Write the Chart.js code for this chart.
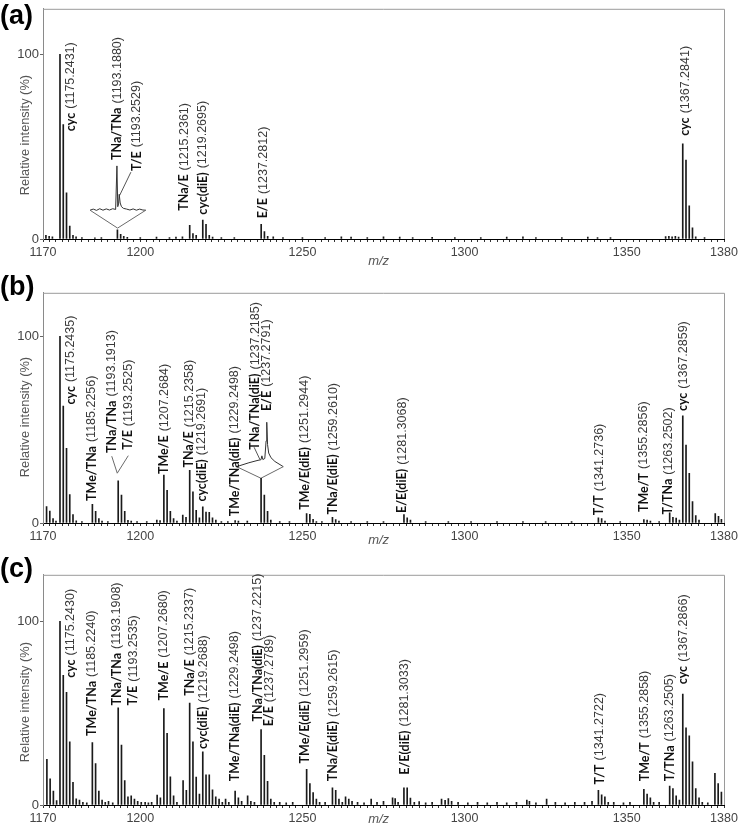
<!DOCTYPE html>
<html>
<head>
<meta charset="utf-8">
<script src="https://cdn.jsdelivr.net/npm/chart.js@4.4.1/dist/chart.umd.min.js"></script>
<style>
  body { margin: 0; background: #fff; width: 742px; height: 828px; position: relative; overflow: hidden; }
  .panel { position: absolute; left: 0; }
  .tag { position: absolute; left: 0; font: bold 27px "Liberation Sans", Arial, sans-serif; line-height: 27px; color: #000; z-index: 2; }
</style>
</head>
<body>
<div class="tag" style="top:2px">(a)</div>
<div class="tag" style="top:273px">(b)</div>
<div class="tag" style="top:555px">(c)</div>
<div class="panel" style="top:0"><canvas id="ca" width="742" height="270"></canvas></div>
<div class="panel" style="top:284px"><canvas id="cb" width="742" height="270"></canvas></div>
<div class="panel" style="top:566px"><canvas id="cc" width="742" height="262"></canvas></div>
<script>
var xTickLabels = [1170, 1200, 1250, 1300, 1350, 1380];
var yTickLabels = [0, 100];

// ---- (a) ----
var mzA = [1170.9, 1171.9, 1172.9, 1175.24, 1176.25, 1177.25, 1178.25, 1179.25, 1180.2, 1182,
           1186, 1188, 1192.95, 1193.95, 1194.9, 1196, 1200, 1205, 1209, 1211,
           1213, 1215.24, 1216.24, 1217.24, 1219.27, 1220.27, 1221.27, 1222.3, 1225, 1229,
           1237.28, 1238.28, 1239.28, 1241, 1244, 1250, 1257, 1262, 1265, 1270,
           1275, 1280, 1284, 1290, 1297, 1305, 1313, 1318, 1322, 1330,
           1338, 1341, 1345, 1362, 1363, 1364, 1365, 1366, 1367.28, 1368.28,
           1369.28, 1370.28, 1371.28, 1374];
var intA = [2, 1.5, 1.2, 100, 62, 25, 7, 2, 1.2, 0.8,
            0.6, 0.8, 5, 2.5, 1.5, 0.9, 0.8, 1, 0.8, 1.1,
            1.2, 7.4, 3, 2, 10.3, 8, 2, 1, 0.8, 0.8,
            8, 4, 1.5, 1.2, 0.8, 0.8, 0.8, 1.2, 1, 0.8,
            1.2, 1, 0.8, 0.9, 0.8, 0.8, 1, 1.2, 0.8, 0.8,
            1, 0.8, 0.8, 1.3, 1.5, 1.2, 1.5, 1, 51.6, 42.8,
            18, 6, 1.2, 0.8];
var namesA = ['cyc', 'TNa/TNa', 'T/E', 'TNa/E', 'cyc(diE)', 'E/E', 'cyc'];
var massesA = ['1175.2431', '1193.1880', '1193.2529', '1215.2361', '1219.2695', '1237.2812', '1367.2841'];
var anchorsA = [[1178.5, 58.4], [1192.9, 42.8], [1198.9, 36.8], [1213.5, 15.3], [1219.2, 13.2], [1237.9, 11.2], [1368.0, 55.9]];
// zoom inset around m/z 1193
var insetVA = [[1184.5, 15.6], [1193.0, 5.9], [1201.7, 15.6]];
var insetTraceA = [[1184.5, 15.6], [1185.5, 16.2], [1186.5, 15.5], [1187.5, 16.4], [1188.5, 15.6], [1189.5, 16.3],
                   [1190.5, 15.7], [1191.5, 16.4], [1192.4, 16], [1192.8, 39.6], [1193.05, 17.5], [1193.3, 19],
                   [1193.5, 24.2], [1193.8, 19.5], [1194.2, 17.5], [1194.8, 16.6], [1195.8, 16.2], [1196.8, 15.7],
                   [1197.8, 16.3], [1198.8, 15.6], [1199.8, 16.2], [1200.8, 15.7], [1201.7, 15.6]];
var pointerA = [[1193.6, 23.5], [1197.1, 36.2]];

// ---- (b) ----
var mzB = [1171.1, 1172.1, 1173.1, 1174, 1175.24, 1176.25, 1177.25, 1178.25, 1179.25, 1180.25,
           1182, 1185.23, 1186.23, 1187.23, 1188.2, 1190, 1193.19, 1194.2, 1195.2, 1196.2,
           1197.2, 1199, 1202, 1205.1, 1206.1, 1207.27, 1208.27, 1209.27, 1210.27, 1211.3,
           1213.1, 1214.1, 1215.24, 1216.24, 1217.24, 1218.24, 1219.27, 1220.27, 1221.27, 1222.27,
           1223.3, 1225, 1227, 1229.25, 1230.25, 1233, 1237.25, 1238.25, 1239.25, 1240.25,
           1243, 1246, 1251.29, 1252.29, 1253.29, 1254.3, 1256, 1259.26, 1260.26, 1261.26,
           1265, 1270, 1275, 1281.31, 1282.31, 1283.31, 1288, 1295, 1302, 1310,
           1318, 1325, 1333, 1341.27, 1342.27, 1343.3, 1348, 1355.29, 1356.29, 1357.3,
           1360, 1363.25, 1364.25, 1365.25, 1366.25, 1367.29, 1368.29, 1369.29, 1370.29, 1371.29,
           1372.3, 1377.3, 1378.3, 1379.2];
var intB = [8.8, 6.4, 2.4, 1, 100, 62.7, 40, 15.3, 4.5, 1.2,
            0.8, 10, 6.2, 2.4, 1, 0.8, 22.6, 15, 6.2, 1.4,
            1, 0.8, 0.8, 1.5, 1.3, 25.7, 17.5, 6.2, 2.4, 1,
            4.2, 3.1, 28.3, 16.7, 6.8, 2.8, 8.7, 5.9, 5.7, 2.8,
            1.5, 0.8, 0.8, 1.3, 1, 1, 24, 15, 6.2, 1.5,
            0.8, 0.8, 5, 4.7, 2, 0.8, 0.8, 3.1, 1.8, 1,
            0.8, 0.8, 0.8, 4.5, 2.8, 1.5, 0.8, 0.8, 0.8, 0.8,
            0.8, 0.8, 0.8, 2.8, 2.4, 1, 0.8, 1.9, 1.5, 1,
            0.8, 5.4, 3.1, 2.6, 1.5, 57.5, 41.8, 26.6, 11.5, 4,
            1.5, 5, 3.6, 2];
var namesB = ['cyc', 'TMe/TNa', 'TNa/TNa', 'T/E', 'TMe/E', 'TNa/E', 'cyc(diE)', 'TMe/TNa(diE)', 'TNa/TNa(diE)',
              'E/E', 'TMe/E(diE)', 'TNa/E(diE)', 'E/E(diE)', 'T/T', 'TMe/T', 'T/TNa', 'cyc'];
var massesB = ['1175.2435', '1185.2256', '1193.1913', '1193.2525', '1207.2684', '1215.2358', '1219.2691', '1229.2498',
               '1237.2185', '1237.2791', '1251.2944', '1259.2610', '1281.3068', '1341.2736', '1355.2856', '1263.2502', '1367.2859'];
var anchorsB = [[1178.5, 63.5], [1185.0, 11.8], [1191.2, 37.5], [1196.3, 39.2], [1207.4, 26.2], [1215.1, 29.7],
                [1218.9, 11.5], [1229.2, 3.6], [1235.4, 39.2], [1239.0, 60], [1250.8, 7.1], [1259.5, 4.5],
                [1280.8, 5.4], [1341.5, 4.2], [1355.3, 5.9], [1362.8, 4.5], [1367.4, 60]];
var insetV1B = [[1191.2, 35.8], [1192.9, 26.7], [1196.3, 36.1]];
var insetV2B = [[1229.7, 30.2], [1237.2, 24], [1244.1, 30.2]];
var insetTraceB = [[1229.7, 30.2], [1233.5, 32.3], [1236.3, 33.6], [1237.2, 33.9], [1237.5, 36], [1237.8, 34],
                   [1238.4, 34.6], [1238.8, 44], [1239.0, 54], [1239.25, 42], [1239.6, 37.5], [1240.3, 35],
                   [1241.5, 33], [1244.1, 30.2]];
var pointerB = [[1235.1, 40.6], [1236.9, 34]];

// ---- (c) ----
var mzC = [1171.2, 1172.2, 1173.2, 1174.2, 1175.24, 1176.25, 1177.25, 1178.25, 1179.25, 1180.25,
           1181.25, 1182.3, 1183.5, 1185.22, 1186.22, 1187.22, 1188.22, 1189.2, 1190.2, 1191.5,
           1193.19, 1194.2, 1195.2, 1196.2, 1197.2, 1198.2, 1199.2, 1200.3, 1201.5, 1202.5,
           1203.5, 1205.2, 1206.2, 1207.27, 1208.27, 1209.27, 1210.27, 1211.3, 1213.2, 1214.2,
           1215.23, 1216.24, 1217.24, 1218.24, 1219.27, 1220.27, 1221.27, 1222.27, 1223.27, 1224.3,
           1225.3, 1226.3, 1227.3, 1229.25, 1230.25, 1231.25, 1233.1, 1234.1, 1235.2, 1237.25,
           1238.25, 1239.25, 1240.25, 1241.3, 1243, 1245, 1247, 1251.3, 1252.3, 1253.3,
           1254.3, 1255.3, 1257, 1259.26, 1260.26, 1261.26, 1262.3, 1263.3, 1264.3, 1265.3,
           1267, 1269, 1271.2, 1273, 1275, 1277.8, 1278.6, 1279.5, 1281.3, 1282.3,
           1283.3, 1284.5, 1286, 1288, 1290, 1292.9, 1294, 1295, 1296, 1298,
           1301, 1304, 1307, 1310, 1313, 1316, 1319.2, 1320, 1322, 1325.3,
           1328, 1331, 1334, 1337, 1339.3, 1341.27, 1342.27, 1343.27, 1344.3, 1346,
           1349, 1351, 1355.29, 1356.29, 1357.29, 1358.3, 1360, 1363.25, 1364.25, 1365.25,
           1366.25, 1367.29, 1368.29, 1369.29, 1370.29, 1371.29, 1372.3, 1373.3, 1375, 1377.2,
           1378.2, 1379.2];
var intC = [24.9, 14.3, 7.6, 2.4, 100, 70.6, 61.3, 34.4, 12.4, 3.3,
            2.7, 1.5, 1.2, 34, 22.6, 7.6, 2.7, 1.5, 2, 1.2,
            52.9, 32.6, 13.3, 4.5, 5, 3.2, 2, 1.5, 1.5, 1.2,
            1.5, 5.4, 3.9, 52.5, 39, 15.4, 5, 1.5, 13.3, 8,
            55.5, 34.4, 15.2, 5.9, 29, 16.4, 16.4, 8.3, 4.5, 3.2,
            1.5, 3.2, 1.5, 7.6, 3.9, 2, 5, 2, 1.5, 41,
            27, 12.9, 3.2, 1.5, 1.5, 1.2, 1.5, 19.4, 11.7, 6.8,
            3.2, 1.5, 1.5, 9.4, 8, 3.2, 1.5, 4.5, 3.2, 2,
            1.5, 1.2, 3.2, 1.5, 2, 3.9, 3.5, 1.5, 9.4, 9.4,
            3.7, 1.5, 1.8, 1.2, 1.5, 3.2, 2.5, 3.5, 2, 1.5,
            1.2, 1.5, 1.2, 1.5, 1.2, 1.5, 2.7, 2, 1.2, 3.2,
            1.5, 1.2, 1.5, 1.5, 2, 8, 5.5, 4.5, 1.5, 1.5,
            1.2, 1.5, 8.5, 5.9, 3.9, 1.5, 1.5, 10.3, 9, 5,
            2.7, 60.4, 42, 37.6, 23.5, 8.9, 3.9, 1.5, 1.2, 17.3,
            11.7, 7.1];
var namesC = ['cyc', 'TMe/TNa', 'TNa/TNa', 'T/E', 'TMe/E', 'TNa/E', 'cyc(diE)', 'TMe/TNa(diE)', 'TNa/TNa(diE)',
              'E/E', 'TMe/E(diE)', 'TNa/E(diE)', 'E/E(diE)', 'T/T', 'TMe/T', 'T/TNa', 'cyc'];
var massesC = ['1175.2430', '1185.2240', '1193.1908', '1193.2535', '1207.2680', '1215.2337', '1219.2688', '1229.2498',
               '1237.2215', '1237.2789', '1251.2959', '1259.2615', '1281.3033', '1341.2722', '1355.2858', '1263.2505', '1367.2866'];
var anchorsC = [[1178.5, 69.2], [1185.0, 37.6], [1192.7, 54.2], [1197.8, 54.2], [1207.3, 56.9], [1215.3, 59.5],
                [1219.4, 30.5], [1229.2, 12.9], [1236.2, 45.5], [1239.8, 42.8], [1250.8, 22.6], [1259.5, 12.9],
                [1281.6, 16.5], [1341.7, 11.2], [1355.6, 12.9], [1363.3, 12.9], [1367.4, 65.7]];

function xy(list) {
  return list.map(function (p) { return {x: p[0], y: p[1]}; });
}

function peaks(mz, val) {
  return mz.map(function (m, i) { return {x: m, y: val[i]}; });
}

function lineSet(pts, color) {
  return {type: 'line', data: xy(pts), borderColor: color, borderWidth: 1, pointRadius: 0, tension: 0, fill: false};
}

var decor = {
  id: 'decor',
  afterDatasetsDraw: function (chart, args, o) {
    var ctx = chart.ctx, xs = chart.scales.x, ys = chart.scales.y, a = chart.chartArea;
    ctx.save();
    // frame top + right
    ctx.strokeStyle = '#9a9a9a';
    ctx.lineWidth = 1;
    ctx.beginPath();
    ctx.moveTo(a.left, a.top + 0.5);
    ctx.lineTo(a.right + 0.5, a.top + 0.5);
    ctx.lineTo(a.right + 0.5, a.bottom);
    ctx.stroke();
    // peak labels
    o.names.forEach(function (name, i) {
      var px = xs.getPixelForValue(o.anchors[i][0]);
      var py = ys.getPixelForValue(o.anchors[i][1]);
      ctx.save();
      ctx.translate(px, py);
      ctx.rotate(-Math.PI / 2);
      ctx.textBaseline = 'middle';
      ctx.textAlign = 'left';
      ctx.font = 'bold 12.5px Lato, "Liberation Sans", sans-serif';
      ctx.fillStyle = '#111';
      ctx.fillText(name, 0, 0);
      var w = ctx.measureText(name).width + 4;
      ctx.font = '12.5px "Liberation Sans", Arial, sans-serif';
      ctx.fillStyle = '#3a3a3a';
      ctx.fillText('(' + o.masses[i] + ')', w, 0);
      ctx.restore();
    });
    // axis titles
    ctx.fillStyle = '#555';
    ctx.font = '12.8px "Liberation Sans", Arial, sans-serif';
    ctx.save();
    ctx.translate(25, ys.getPixelForValue(o.yTitleAt));
    ctx.rotate(-Math.PI / 2);
    ctx.textAlign = 'center';
    ctx.textBaseline = 'middle';
    ctx.fillText('Relative intensity (%)', 0, 0);
    ctx.restore();
    ctx.font = 'italic 13px "Liberation Sans", Arial, sans-serif';
    ctx.textAlign = 'center';
    ctx.textBaseline = 'middle';
    ctx.fillText('m/z', xs.getPixelForValue(1273.5), a.bottom + o.mzGap);
    ctx.restore();
  }
};

function makePanel(id, mz, val, extra, yMax, labels, xAxisH) {
  var sets = [{
    type: 'bar',
    data: peaks(mz, val),
    backgroundColor: '#1a1a1a',
    barThickness: 1,
    categoryPercentage: 1,
    barPercentage: 1
  }].concat(extra);
  return new Chart(document.getElementById(id), {
    type: 'bar',
    data: {datasets: sets},
    plugins: [decor],
    options: {
      responsive: false,
      animation: false,
      devicePixelRatio: 1,
      layout: {padding: {left: 0, right: 18, top: 1, bottom: 0}},
      plugins: {legend: {display: false}, tooltip: {enabled: false}, decor: labels},
      scales: {
        x: {
          type: 'linear', min: 1170, max: 1380, offset: false,
          afterBuildTicks: function (s) {
            var t = [];
            for (var v = 1170; v <= 1380; v += 2) t.push({value: v});
            s.ticks = t;
          },
          afterFit: function (s) { s.height = xAxisH; },
          grid: {drawOnChartArea: false, offset: false, tickLength: 3, color: '#333'},
          border: {color: '#000', width: 1},
          ticks: {
            autoSkip: false, maxRotation: 0, padding: 3, color: '#444',
            font: {family: '"Liberation Sans", Arial, sans-serif', size: 12.5},
            callback: function (v) { return xTickLabels.indexOf(v) >= 0 ? String(v) : ''; }
          }
        },
        y: {
          min: 0, max: yMax,
          afterBuildTicks: function (s) { s.ticks = yTickLabels.map(function (v) { return {value: v}; }); },
          afterFit: function (s) { s.width = 43; },
          grid: {drawOnChartArea: false, tickLength: 3, color: '#666'},
          border: {color: '#8a8a8a', width: 1},
          ticks: {
            padding: 1, color: '#444',
            font: {family: '"Liberation Sans", Arial, sans-serif', size: 13}
          }
        }
      }
    }
  });
}

makePanel('ca', mzA, intA,
  [lineSet(insetVA, '#6a6a6a'), lineSet(insetTraceA, '#333'), lineSet(pointerA, '#555')],
  124.7,
  {names: namesA, masses: massesA, anchors: anchorsA, yTitleAt: 56.3, mzGap: 22},
  31);

makePanel('cb', mzB, intB,
  [lineSet(insetV1B, '#6a6a6a'), lineSet(insetV2B, '#6a6a6a'), lineSet(insetTraceB, '#333'), lineSet(pointerB, '#555')],
  123.4,
  {names: namesB, masses: massesB, anchors: anchorsB, yTitleAt: 56.8, mzGap: 17},
  31);

makePanel('cc', mzC, intC, [],
  125.3,
  {names: namesC, masses: massesC, anchors: anchorsC, yTitleAt: 56, mzGap: 14},
  23);
</script>
</body>
</html>
